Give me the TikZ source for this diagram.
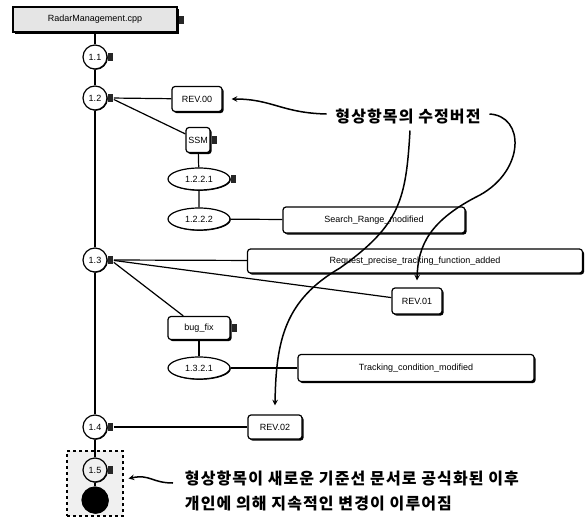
\documentclass[tikz,border=0pt]{standalone}
\usepackage{fontspec}
\setmainfont{Liberation Sans}
\newfontfamily\kor{Noto Sans CJK KR}[LetterSpace=7]
\usetikzlibrary{positioning}
\usetikzlibrary{shapes}
\usetikzlibrary{shadows}

\begin{document}
\begin{tikzpicture}[>=stealth, line width=1.2pt, x=1pt, y=-1pt,
    ver/.style={circle, draw, fill=white, minimum size=24pt, inner sep=0pt, font=\fontsize{9}{10}\selectfont,
        drop shadow={shadow xshift=0.8pt, shadow yshift=-0.8pt, opacity=1, fill=black}},
    revbox/.style={rectangle, rounded corners=3pt, draw, fill=white, inner sep=0pt, font=\fontsize{9}{10}\selectfont,
        drop shadow={shadow xshift=1.6pt, shadow yshift=-1.6pt, opacity=1, fill=black}},
    branch/.style={ellipse, draw, fill=white, minimum width=62pt, minimum height=22pt, inner sep=0pt, font=\fontsize{9}{10}\selectfont,
        drop shadow={shadow xshift=0.8pt, shadow yshift=-0.8pt, opacity=1, fill=black}},
    tab/.style={rectangle, fill=black!85, minimum width=5pt, minimum height=8pt, inner sep=0pt, anchor=west},
    note/.style={font=\kor\bfseries\fontsize{16}{25}\selectfont},
    pointer/.style={->, line width=1.5pt}]
        \useasboundingbox (0,0) rectangle (586,522);

        % Baseline group: dashed frame behind 1.5
        \node[draw, dashed, fill=gray!12, minimum width=56pt, minimum height=65pt, inner sep=0pt] at (95,483.5) (grp) {};

        % Top Node: source file
        \node[revbox, rounded corners=0pt, fill=gray!20, minimum width=164pt, minimum height=25pt] at (95,19.5) (file) {RadarManagement.cpp};
        \node[tab] at ([xshift=1pt]file.east) (tfile) {};

        % Main line versions
        \node[ver] at (95,57) (v11) {1.1};
        \node[tab] at (v11.east) (t11) {};
        \node[ver] at (95,98) (v12) {1.2};
        \node[tab] at (v12.east) (t12) {};
        \node[ver] at (95,260) (v13) {1.3};
        \node[tab] at (v13.east) (t13) {};
        \node[ver] at (95,427) (v14) {1.4};
        \node[tab] at (v14.east) (t14) {};
        \node[ver, fill=gray!12] at (95,470) (v15) {1.5};
        \node[tab] at (v15.east) (t15) {};
        \node[ver, fill=black, minimum size=26pt] at (95,500) (vend) {};

        % Branch of 1.2
        \node[revbox, minimum width=50pt, minimum height=25pt] at (197,99) (rev00) {REV.00};
        \node[revbox, minimum width=24pt, minimum height=25pt] at (198,140) (ssm) {SSM};
        \node[tab] at ([xshift=1pt]ssm.east) (tssm) {};
        \node[branch] at (199,179) (b1221) {1.2.2.1};
        \node[tab] at (b1221.east) (tb1221) {};
        \node[branch] at (199,219) (b1222) {1.2.2.2};
        \node[revbox, minimum width=182pt, minimum height=26pt] at (374,220) (srm) {Search\_Range\_modified};

        % Branch of 1.3
        \node[revbox, minimum width=335pt, minimum height=24pt] at (415,261) (req) {Request\_precise\_tracking\_function\_added};
        \node[revbox, minimum width=50pt, minimum height=26pt] at (417,301) (rev01) {REV.01};
        \node[revbox, minimum width=62pt, minimum height=23pt] at (199,328) (bugfix) {bug\_fix};
        \node[tab] at ([xshift=1pt]bugfix.east) (tbugfix) {};
        \node[branch] at (199,368) (b1321) {1.3.2.1};
        \node[revbox, minimum width=236pt, minimum height=27pt] at (416,368) (tcm) {Tracking\_condition\_modified};

        % Branch of 1.4
        \node[revbox, minimum width=54pt, minimum height=24pt] at (275,427) (rev02) {REV.02};

        % Links
        \draw (file) -- (v11) -- (v12) -- (v13) -- (v14) -- (v15) -- (vend);
        \draw (t12) -- (rev00);
        \draw (t12) -- (ssm);
        \draw (ssm) -- (b1221) -- (b1222);
        \draw (b1222) -- (srm);
        \draw (t13) -- (req);
        \draw (t13) -- (rev01);
        \draw (t13) -- (bugfix);
        \draw (bugfix) -- (b1321);
        \draw (b1321) -- (tcm);
        \draw (t14) -- (rev02);

        % Notes
        \node[note] at (408,116) (ver_note) {형상항목의 수정버전};
        \node[note, align=left, anchor=west] at (181,491) (base_note) {형상항목이 새로운 기준선 문서로 공식화된 이후\\개인에 의해 지속적인 변경이 이루어짐};

        \draw[pointer] ([xshift=-5pt, yshift=2pt]ver_note.west) .. controls (282,113) and (272,99) .. ([xshift=9pt]rev00.east);
        \draw[pointer] ([xshift=2pt, yshift=-3pt]ver_note.south) .. controls (406,200) and (400,225) .. (340,268)
            .. controls (285,300) and (276,340) .. ([yshift=9pt]rev02.north);
        \draw[pointer] ([xshift=5pt, yshift=2pt]ver_note.east) .. controls (525,116) and (525,170) .. (480,195)
            .. controls (430,220) and (418,245) .. ([yshift=7pt]rev01.north);
        \draw[pointer] ([xshift=-8pt, yshift=8pt]base_note.west) .. controls (152,483) and (150,474) .. ([xshift=5pt, yshift=5pt]grp.east);

    \end{tikzpicture}
\end{document}
